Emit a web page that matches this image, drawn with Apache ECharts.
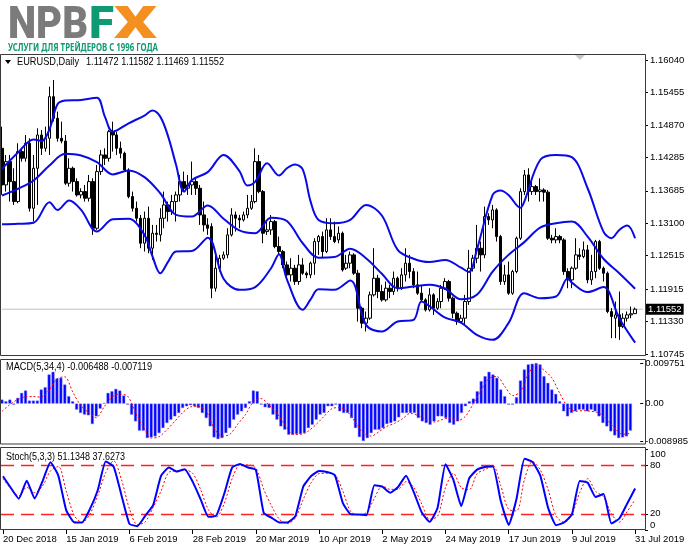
<!DOCTYPE html>
<html><head><meta charset="utf-8">
<script src="https://cdn.jsdelivr.net/npm/echarts@6/dist/echarts.min.js"></script>
<style>html,body{margin:0;padding:0;background:#fff}#c{width:691px;height:549px}</style>
</head><body><div id="c"></div>
<script>
// ---- tick labels ----
const dateLabels = ['20 Dec 2018','15 Jan 2019','6 Feb 2019','28 Feb 2019','20 Mar 2019','10 Apr 2019','2 May 2019','24 May 2019','17 Jun 2019','9 Jul 2019','31 Jul 2019'];
const dateLabelEvery = 16;
const priceTicks = [1.10745,1.11330,1.11915,1.12515,1.13100,1.13685,1.14285,1.14870,1.15455,1.16040];
const macdTicks = [-0.008985, 0, 0.009751];
const stochTicks = [0, 20, 80, 100];
const stochLevels = [80, 20];
const lastPrice = 1.11552;

// ---- daily candles: [open, close, low, high] ----
const candles = [
[1.1445,1.1379,1.1361,1.1484],[1.1379,1.1421,1.1367,1.1433],[1.1421,1.1385,1.1349,1.1433],[1.1385,1.1349,1.1343,1.1409],
[1.1349,1.1439,1.1346,1.1454],[1.1439,1.1427,1.1421,1.1445],[1.1427,1.1454,1.1421,1.1469],[1.1454,1.1337,1.1331,1.1463],
[1.1337,1.1409,1.1313,1.1433],[1.1409,1.1469,1.1343,1.1481],[1.1469,1.1445,1.1433,1.1478],[1.1445,1.1463,1.1439,1.1484],
[1.1463,1.1538,1.1433,1.1556],[1.1538,1.1499,1.1493,1.1568],[1.1499,1.1463,1.1457,1.1511],[1.1463,1.1458,1.1454,1.1493],
[1.1458,1.1382,1.1379,1.1469],[1.1382,1.1409,1.1376,1.1427],[1.1409,1.1385,1.1367,1.1412],[1.1385,1.1361,1.1358,1.1391],
[1.1361,1.1367,1.1355,1.1373],[1.1367,1.1355,1.1349,1.1379],[1.1355,1.1385,1.1349,1.1397],[1.1385,1.1301,1.1289,1.1391],
[1.1301,1.1403,1.1298,1.1415],[1.1403,1.1433,1.1397,1.1442],[1.1433,1.1427,1.1415,1.1445],[1.1427,1.1475,1.1421,1.1478],
[1.1475,1.1469,1.1439,1.1493],[1.1469,1.1445,1.1433,1.1475],[1.1445,1.1436,1.1427,1.1457],[1.1436,1.1406,1.1403,1.1439],
[1.1406,1.1358,1.1355,1.1409],[1.1358,1.1337,1.1331,1.1367],[1.1337,1.1319,1.1313,1.1349],[1.1319,1.1274,1.1265,1.1325],
[1.1274,1.1319,1.1259,1.1331],[1.1319,1.1265,1.1256,1.1340],[1.1265,1.1292,1.1244,1.1307],[1.1292,1.1290,1.1277,1.1307],
[1.1289,1.1319,1.1277,1.1337],[1.1319,1.1343,1.1301,1.1367],[1.1343,1.1331,1.1313,1.1349],[1.1331,1.1349,1.1325,1.1361],
[1.1349,1.1361,1.1313,1.1367],[1.1361,1.1385,1.1349,1.1397],[1.1385,1.1373,1.1367,1.1403],[1.1373,1.1379,1.1361,1.1397],
[1.1379,1.1385,1.1361,1.1421],[1.1385,1.1373,1.1361,1.1391],[1.1373,1.1325,1.1307,1.1379],[1.1325,1.1307,1.1295,1.1349],
[1.1307,1.1301,1.1289,1.1319],[1.1304,1.1193,1.1175,1.1310],[1.1193,1.1229,1.1187,1.1253],[1.1229,1.1247,1.1223,1.1253],
[1.1247,1.1253,1.1244,1.1259],[1.1253,1.1289,1.1247,1.1301],[1.1289,1.1325,1.1286,1.1337],[1.1325,1.1319,1.1295,1.1331],
[1.1319,1.1316,1.1301,1.1325],[1.1316,1.1325,1.1313,1.1331],[1.1325,1.1337,1.1319,1.1361],[1.1337,1.1349,1.1334,1.1361],
[1.1349,1.1421,1.1346,1.1445],[1.1421,1.1367,1.1364,1.1433],[1.1367,1.1292,1.1274,1.1370],[1.1295,1.1298,1.1289,1.1313],
[1.1298,1.1313,1.1289,1.1325],[1.1313,1.1268,1.1265,1.1316],[1.1268,1.1259,1.1253,1.1286],[1.1259,1.1235,1.1229,1.1262],
[1.1235,1.1217,1.1211,1.1241],[1.1217,1.1229,1.1205,1.1247],[1.1229,1.1205,1.1199,1.1235],[1.1205,1.1235,1.1199,1.1253],
[1.1235,1.1220,1.1217,1.1247],[1.1220,1.1217,1.1211,1.1223],[1.1217,1.1238,1.1211,1.1241],[1.1238,1.1277,1.1217,1.1283],
[1.1277,1.1286,1.1253,1.1289],[1.1286,1.1259,1.1247,1.1295],[1.1259,1.1298,1.1256,1.1319],[1.1298,1.1286,1.1280,1.1319],
[1.1286,1.1277,1.1274,1.1313],[1.1280,1.1292,1.1274,1.1304],[1.1292,1.1226,1.1223,1.1295],[1.1229,1.1238,1.1226,1.1253],
[1.1238,1.1253,1.1229,1.1259],[1.1253,1.1220,1.1217,1.1256],[1.1220,1.1157,1.1133,1.1226],[1.1157,1.1130,1.1121,1.1160],
[1.1130,1.1139,1.1115,1.1151],[1.1139,1.1181,1.1136,1.1187],[1.1181,1.1211,1.1178,1.1265],[1.1211,1.1187,1.1175,1.1217],
[1.1187,1.1172,1.1169,1.1199],[1.1172,1.1193,1.1169,1.1205],[1.1193,1.1187,1.1175,1.1199],[1.1187,1.1211,1.1181,1.1223],
[1.1211,1.1193,1.1187,1.1214],[1.1193,1.1217,1.1190,1.1229],[1.1217,1.1238,1.1205,1.1265],[1.1238,1.1223,1.1211,1.1253],
[1.1223,1.1199,1.1193,1.1229],[1.1199,1.1184,1.1181,1.1223],[1.1184,1.1172,1.1169,1.1199],[1.1172,1.1154,1.1151,1.1175],
[1.1154,1.1181,1.1151,1.1193],[1.1181,1.1157,1.1145,1.1184],[1.1157,1.1169,1.1154,1.1175],[1.1169,1.1193,1.1157,1.1199],
[1.1193,1.1205,1.1190,1.1211],[1.1205,1.1175,1.1169,1.1208],[1.1175,1.1148,1.1139,1.1178],[1.1148,1.1133,1.1127,1.1151],
[1.1133,1.1139,1.1130,1.1145],[1.1139,1.1169,1.1127,1.1181],[1.1169,1.1229,1.1163,1.1262],[1.1229,1.1247,1.1223,1.1253],
[1.1247,1.1265,1.1238,1.1307],[1.1265,1.1253,1.1223,1.1277],[1.1253,1.1322,1.1247,1.1340],[1.1322,1.1316,1.1307,1.1328],
[1.1316,1.1334,1.1301,1.1343],[1.1334,1.1286,1.1277,1.1337],[1.1286,1.1205,1.1199,1.1289],[1.1205,1.1217,1.1199,1.1235],
[1.1217,1.1184,1.1181,1.1241],[1.1184,1.1223,1.1181,1.1226],[1.1223,1.1283,1.1220,1.1286],[1.1283,1.1367,1.1280,1.1373],
[1.1367,1.1397,1.1361,1.1406],[1.1397,1.1367,1.1349,1.1409],[1.1367,1.1376,1.1361,1.1388],[1.1376,1.1367,1.1361,1.1379],
[1.1367,1.1370,1.1349,1.1391],[1.1370,1.1366,1.1349,1.1373],[1.1366,1.1283,1.1280,1.1370],[1.1283,1.1280,1.1274,1.1289],
[1.1280,1.1286,1.1274,1.1301],[1.1286,1.1280,1.1274,1.1289],[1.1280,1.1223,1.1217,1.1283],[1.1223,1.1208,1.1193,1.1229],
[1.1208,1.1229,1.1193,1.1232],[1.1229,1.1253,1.1226,1.1283],[1.1253,1.1250,1.1244,1.1265],[1.1250,1.1262,1.1247,1.1277],
[1.1262,1.1208,1.1202,1.1271],[1.1208,1.1223,1.1199,1.1253],[1.1223,1.1277,1.1211,1.1280],[1.1277,1.1229,1.1226,1.1280],
[1.1229,1.1220,1.1205,1.1232],[1.1220,1.1151,1.1148,1.1223],[1.1151,1.1142,1.1103,1.1157],[1.1139,1.1145,1.1103,1.1169],
[1.1145,1.1124,1.1100,1.1187],[1.1124,1.1139,1.1121,1.1148],[1.1139,1.1145,1.1133,1.1151],[1.1145,1.1147,1.1139,1.1160],
[1.11472,1.11552,1.11469,1.11582]
];

// ---- Bollinger bands read at bar indices: [bar, price] ----
const bbUpper = [[0,1.1408],[4,1.1437],[8,1.1461],[10,1.1458],[12,1.1479],[14,1.1524],[16,1.1531],[20,1.1532],[24,1.1536],[26,1.1502],[28,1.1475],[32,1.1490],[36,1.1504],[38,1.1513],[40,1.1502],[42,1.1466],[44,1.1415],[46,1.1367],[48,1.1388],[52,1.1402],[56,1.1433],[60,1.1404],[62,1.1378],[64,1.1385],[67,1.1418],[70,1.1396],[72,1.1409],[74,1.1416],[76,1.1407],[78,1.1349],[80,1.1316],[84,1.1310],[88,1.1316],[92,1.1343],[96,1.1324],[100,1.1262],[104,1.1246],[108,1.1240],[112,1.1244],[116,1.1230],[118,1.1222],[120,1.1262],[124,1.1361],[126,1.1369],[128,1.1361],[131,1.1338],[132,1.1349],[136,1.1424],[140,1.1433],[144,1.1429],[148,1.1373],[152,1.1295],[154,1.1283],[156,1.1298],[158,1.1306],[160,1.1283]];
const bbMiddle = [[0,1.1360],[4,1.1372],[8,1.1387],[12,1.1414],[16,1.1435],[20,1.1432],[24,1.1420],[28,1.1398],[32,1.1405],[36,1.1393],[40,1.1364],[44,1.1325],[48,1.1322],[52,1.1342],[56,1.1318],[60,1.1297],[64,1.1292],[68,1.1320],[72,1.1314],[76,1.1274],[80,1.1248],[84,1.1249],[88,1.1264],[92,1.1247],[96,1.1219],[100,1.1193],[104,1.1196],[108,1.1199],[112,1.1192],[116,1.1173],[120,1.1181],[124,1.1223],[128,1.1253],[132,1.1276],[136,1.1302],[140,1.1310],[144,1.1313],[148,1.1286],[152,1.1246],[156,1.1220],[160,1.1192]];
const bbLower = [[0,1.1308],[4,1.1309],[8,1.1311],[12,1.1348],[14,1.1334],[17,1.1351],[20,1.1334],[24,1.1295],[28,1.1317],[32,1.1318],[36,1.1289],[38,1.1251],[40,1.1220],[42,1.1241],[44,1.1259],[48,1.1260],[52,1.1284],[56,1.1210],[60,1.1190],[64,1.1195],[68,1.1229],[70,1.1254],[72,1.1209],[76,1.1154],[78,1.1173],[80,1.1191],[84,1.1190],[88,1.1207],[92,1.1127],[96,1.1115],[100,1.1133],[104,1.1136],[106,1.1169],[108,1.1161],[112,1.1140],[116,1.1131],[120,1.1109],[124,1.1100],[128,1.1130],[132,1.1184],[136,1.1175],[140,1.1178],[143,1.1211],[144,1.1203],[148,1.1186],[152,1.1195],[156,1.1139],[160,1.1095]];

// ---- MACD(5,34,4) histogram, one value per bar ----
const macdHist = [
0.00096,0.00056,0.00096,-0.00024,0.00137,0.00257,0.00314,0.00072,0.00072,0.00072,
0.00338,0.00394,0.00699,0.00764,0.00603,0.00619,0.00458,0.00177,0.00056,-0.00145,
-0.00225,-0.00265,-0.00281,-0.00490,-0.00306,-0.00121,0.00016,0.00257,0.00297,0.00354,
0.00314,0.00193,-0.00024,-0.00265,-0.00426,-0.00651,-0.00651,-0.00828,-0.00812,-0.00788,
-0.00708,-0.00587,-0.00466,-0.00386,-0.00306,-0.00225,-0.00105,-0.00064,-0.00040,-0.00064,
-0.00105,-0.00225,-0.00346,-0.00547,-0.00812,-0.00852,-0.00828,-0.00708,-0.00587,-0.00386,
-0.00265,-0.00185,-0.00105,0.00056,0.00314,0.00297,-0.00024,-0.00088,-0.00105,-0.00265,
-0.00386,-0.00547,-0.00627,-0.00748,-0.00748,-0.00732,-0.00732,-0.00708,-0.00587,-0.00507,
-0.00386,-0.00265,-0.00225,-0.00064,-0.00064,-0.00024,-0.00185,-0.00225,-0.00225,-0.00346,
-0.00587,-0.00804,-0.00898,-0.00828,-0.00708,-0.00627,-0.00627,-0.00587,-0.00490,-0.00466,
-0.00426,-0.00330,-0.00225,-0.00225,-0.00225,-0.00225,-0.00346,-0.00426,-0.00466,-0.00507,
-0.00426,-0.00306,-0.00306,-0.00346,-0.00466,-0.00507,-0.00426,-0.00225,-0.00064,0.00056,
0.00121,0.00297,0.00539,0.00659,0.00764,0.00699,0.00619,0.00338,0.00177,-0.00024,
-0.00024,0.00153,0.00555,0.00820,0.00941,0.00957,0.00973,0.00941,0.00659,0.00498,
0.00338,0.00233,0.00056,-0.00185,-0.00306,-0.00225,-0.00185,-0.00145,-0.00145,-0.00185,
-0.00145,-0.00185,-0.00306,-0.00466,-0.00547,-0.00667,-0.00764,-0.00828,-0.00812,-0.00788,
-0.006488];

// ---- lines read every 2 bars ----
const lineStep = 2;
const macdSignal = [-0.00185,-0.00024,0.00096,0.00161,0.00169,0.00153,0.00322,0.00595,0.00643,0.00281,-0.00040,-0.00209,-0.00338,-0.00080,0.00153,0.00225,0.00177,-0.00209,-0.00563,-0.00828,-0.00796,-0.00627,-0.00426,-0.00217,-0.00080,-0.00064,-0.00185,-0.00587,-0.00780,-0.00740,-0.00498,-0.00265,0.00040,0.00121,-0.00040,-0.00233,-0.00498,-0.00732,-0.00740,-0.00659,-0.00498,-0.00306,-0.00121,-0.00096,-0.00201,-0.00450,-0.00708,-0.00780,-0.00675,-0.00547,-0.00474,-0.00362,-0.00233,-0.00289,-0.00378,-0.00442,-0.00386,-0.00346,-0.00410,-0.00306,0.0,0.00322,0.00603,0.00651,0.00418,0.00193,0.00281,0.00708,0.00925,0.00804,0.00619,0.00249,-0.00072,-0.00185,-0.00169,-0.00185,-0.00225,-0.00386,-0.00595,-0.00740,-0.007119];
const stochK = [66.3,51.8,38.6,60.9,39.0,60.1,83.7,67.1,24.5,9.6,9.2,25.8,49.4,84.5,78.3,42.7,7.6,4.7,17.5,30.7,66.7,77.1,72.1,75.0,59.7,38.2,16.3,17.9,44.8,77.1,81.6,77.1,74.2,21.2,15.0,9.2,9.2,17.1,53.5,66.7,72.9,71.6,67.6,33.6,19.6,19.2,18.3,55.1,53.5,46.0,53.1,67.1,46.5,21.6,10.1,27.4,81.2,61.8,29.5,63.8,74.6,77.9,78.3,35.7,6.3,39.0,88.0,84.1,67.1,27.0,5.9,9.2,19.2,60.5,58.4,40.7,44.4,8.0,14.2,32.8,51.1348];
const stochD = [63.4,51.0,41.9,52.7,46.1,54.3,72.9,78.3,48.1,18.3,9.2,19.6,42.7,70.9,85.3,62.1,26.2,6.7,10.1,27.9,48.1,71.3,72.9,74.2,70.0,50.2,24.9,15.9,32.8,63.4,80.4,80.4,76.2,50.2,29.5,13.0,8.0,14.9,37.8,58.5,69.6,70.0,68.3,48.1,22.9,18.7,21.6,39.0,54.3,50.2,50.2,59.7,52.3,32.0,13.4,17.1,52.3,70.0,52.3,49.8,69.6,74.6,79.5,54.7,25.4,23.7,62.6,84.5,74.2,49.4,17.1,9.6,19.2,46.5,63.4,47.7,41.1,20.0,9.6,22.9,37.6273];

// ---------------- build ----------------
const N_SLOTS = candles.length + 2;
const slots = Array.from({length: N_SLOTS}, (_, i) => String(i));
const stepPairs = arr => arr.map((v, k) => [k * lineStep, v]);
const FONT = 'Liberation Sans, Arial, sans-serif';
const AX_FS = 9.5;

function measure(str, font) {
  const c = document.createElement('canvas').getContext('2d');
  c.font = font; return c.measureText(str).width;
}
function fitText(str, x, y, w, font, fill) {
  const m = measure(str, font);
  return {
    type: 'text', x: x, y: y, scaleX: w ? w / m : 1, z: 20,
    style: { text: str, font: font, fill: fill, align: 'left', textAlign: 'left', verticalAlign: 'middle', textVerticalAlign: 'middle' }
  };
}

const GL = 0, GW = 645;
const grids = [
  { left: GL, width: GW, top: 60, height: 294 },
  { left: GL, width: GW, top: 363, height: 78 },
  { left: GL, width: GW, top: 449, height: 81 }
];

function xAx(gi, showLabels) {
  return {
    type: 'category', gridIndex: gi, data: slots, boundaryGap: true,
    axisLine: { show: false },
    axisTick: { show: showLabels, interval: dateLabelEvery - 1, alignWithLabel: true, length: 4, lineStyle: { color: '#000' } },
    axisLabel: {
      show: showLabels, interval: dateLabelEvery - 1, align: 'left', margin: 4,
      color: '#000', fontFamily: FONT, fontSize: AX_FS,
      formatter: (v, i) => (i % dateLabelEvery === 0 && i / dateLabelEvery < dateLabels.length) ? dateLabels[i / dateLabelEvery] : ''
    },
    splitLine: { show: false }
  };
}
function yAx(gi, min, max, ticks, fmt, extraLabel) {
  return {
    type: 'value', gridIndex: gi, position: 'right', min: min, max: max,
    axisLine: { show: false }, splitLine: { show: false },
    axisTick: { show: true, length: 3, customValues: ticks, lineStyle: { color: '#000' } },
    axisLabel: Object.assign({ customValues: ticks, formatter: fmt, color: '#000', fontFamily: FONT, fontSize: AX_FS, margin: 5 }, extraLabel || {})
  };
}

const bandStyle = { color: '#0a0ae6', width: 2 };
const option = {
  animation: false,
  backgroundColor: '#ffffff',
  grid: grids,
  xAxis: [xAx(0, false), xAx(1, false), xAx(2, true)],
  yAxis: [
    yAx(0, 1.10745, 1.16040, priceTicks, v => v.toFixed(5)),
    yAx(1, -0.008985, 0.009751, macdTicks, v => Math.abs(v) < 1e-9 ? '0.00' : v.toFixed(6)),
    yAx(2, 0, 100, stochTicks, v => String(v), { verticalAlignMaxLabel: 'top', verticalAlignMinLabel: 'bottom' })
  ],
  series: [
    {
      type: 'line', xAxisIndex: 0, yAxisIndex: 0, z: 2, showSymbol: false, silent: true,
      data: [[0, lastPrice], [N_SLOTS - 1, lastPrice]],
      lineStyle: { color: '#c0c0c0', width: 1 },
      endLabel: { show: true, distance: 3, formatter: lastPrice.toFixed(5), backgroundColor: '#000', color: '#fff', padding: [1, 2, 0, 2], fontFamily: FONT, fontSize: AX_FS }
    },
    {
      type: 'candlestick', xAxisIndex: 0, yAxisIndex: 0, data: candles, barWidth: 3,
      itemStyle: { color: '#ffffff', color0: '#000000', borderColor: '#000000', borderColor0: '#000000', borderWidth: 1 },
      z: 3
    },
    { type: 'line', xAxisIndex: 0, yAxisIndex: 0, data: bbUpper, showSymbol: false, smooth: 0.35, lineStyle: bandStyle, z: 4 },
    { type: 'line', xAxisIndex: 0, yAxisIndex: 0, data: bbMiddle, showSymbol: false, smooth: 0.35, lineStyle: bandStyle, z: 4 },
    { type: 'line', xAxisIndex: 0, yAxisIndex: 0, data: bbLower, showSymbol: false, smooth: 0.35, lineStyle: bandStyle, z: 4 },
    { type: 'bar', xAxisIndex: 1, yAxisIndex: 1, data: macdHist, barWidth: 3, itemStyle: { color: '#0000ff', borderColor: '#7070ff', borderWidth: 0.5 } },
    { type: 'line', xAxisIndex: 1, yAxisIndex: 1, data: stepPairs(macdSignal), showSymbol: false, smooth: 0.3, lineStyle: { color: '#ff0000', width: 1, type: [2, 2] }, z: 5 },
    {
      type: 'line', xAxisIndex: 2, yAxisIndex: 2, data: stepPairs(stochK), showSymbol: false, smooth: 0.15, lineStyle: { color: '#0000ff', width: 2 }, z: 5,
      markLine: {
        silent: true, symbol: ['none', 'none'], animation: false, label: { show: false },
        lineStyle: { color: '#ff2020', width: 1.3, type: [13, 7] },
        data: stochLevels.map(v => ({ yAxis: v }))
      }
    },
    { type: 'line', xAxisIndex: 2, yAxisIndex: 2, data: stepPairs(stochD), showSymbol: false, smooth: 0.3, lineStyle: { color: '#ff0000', width: 1, type: [2, 2] }, z: 4 }
  ],
  graphic: [
    { type: 'rect', z: 30, shape: { x: 0.5, y: 54.5, width: 645, height: 301 }, style: { fill: 'none', stroke: '#3a3a3a', lineWidth: 1 } },
    { type: 'rect', z: 30, shape: { x: 0.5, y: 359.5, width: 645, height: 84.5 }, style: { fill: 'none', stroke: '#3a3a3a', lineWidth: 1 } },
    { type: 'rect', z: 30, shape: { x: 0.5, y: 447.5, width: 645, height: 82 }, style: { fill: 'none', stroke: '#3a3a3a', lineWidth: 1 } },
    { type: 'polygon', z: 30, shape: { points: [[575, 55], [585, 55], [580, 60]] }, style: { fill: '#c8c8c8' } },
    { type: 'polygon', z: 30, shape: { points: [[5, 60], [11, 60], [8, 64]] }, style: { fill: '#000' } },
    fitText('EURUSD,Daily', 17, 62.5, 62, '10.5px ' + FONT, '#000'),
    fitText('1.11472 1.11582 1.11469 1.11552', 86, 62.5, 138, '10.5px ' + FONT, '#000'),
    fitText('MACD(5,34,4) -0.006488 -0.007119', 6, 367, 146, '10.5px ' + FONT, '#000'),
    fitText('Stoch(5,3,3) 51.1348 37.6273', 6, 457, 119, '10.5px ' + FONT, '#000'),
    fitText('NPB', 8, 27, 80, '900 45px Roboto, ' + FONT, '#7b7b7b'),
    fitText('F', 89, 27, 25, '900 45px Roboto, ' + FONT, '#0e9a72'),
    fitText('X', 114, 27, 43, '900 45px Roboto, ' + FONT, '#f39020'),
    fitText('УСЛУГИ ДЛЯ ТРЕЙДЕРОВ С 1996 ГОДА', 8, 47.5, 150, 'bold 11px "Noto Sans", ' + FONT, '#0e9a72')
  ]
};

const chart = echarts.init(document.getElementById('c'), null, { renderer: 'canvas' });
chart.setOption(option);
</script>
</body></html>
